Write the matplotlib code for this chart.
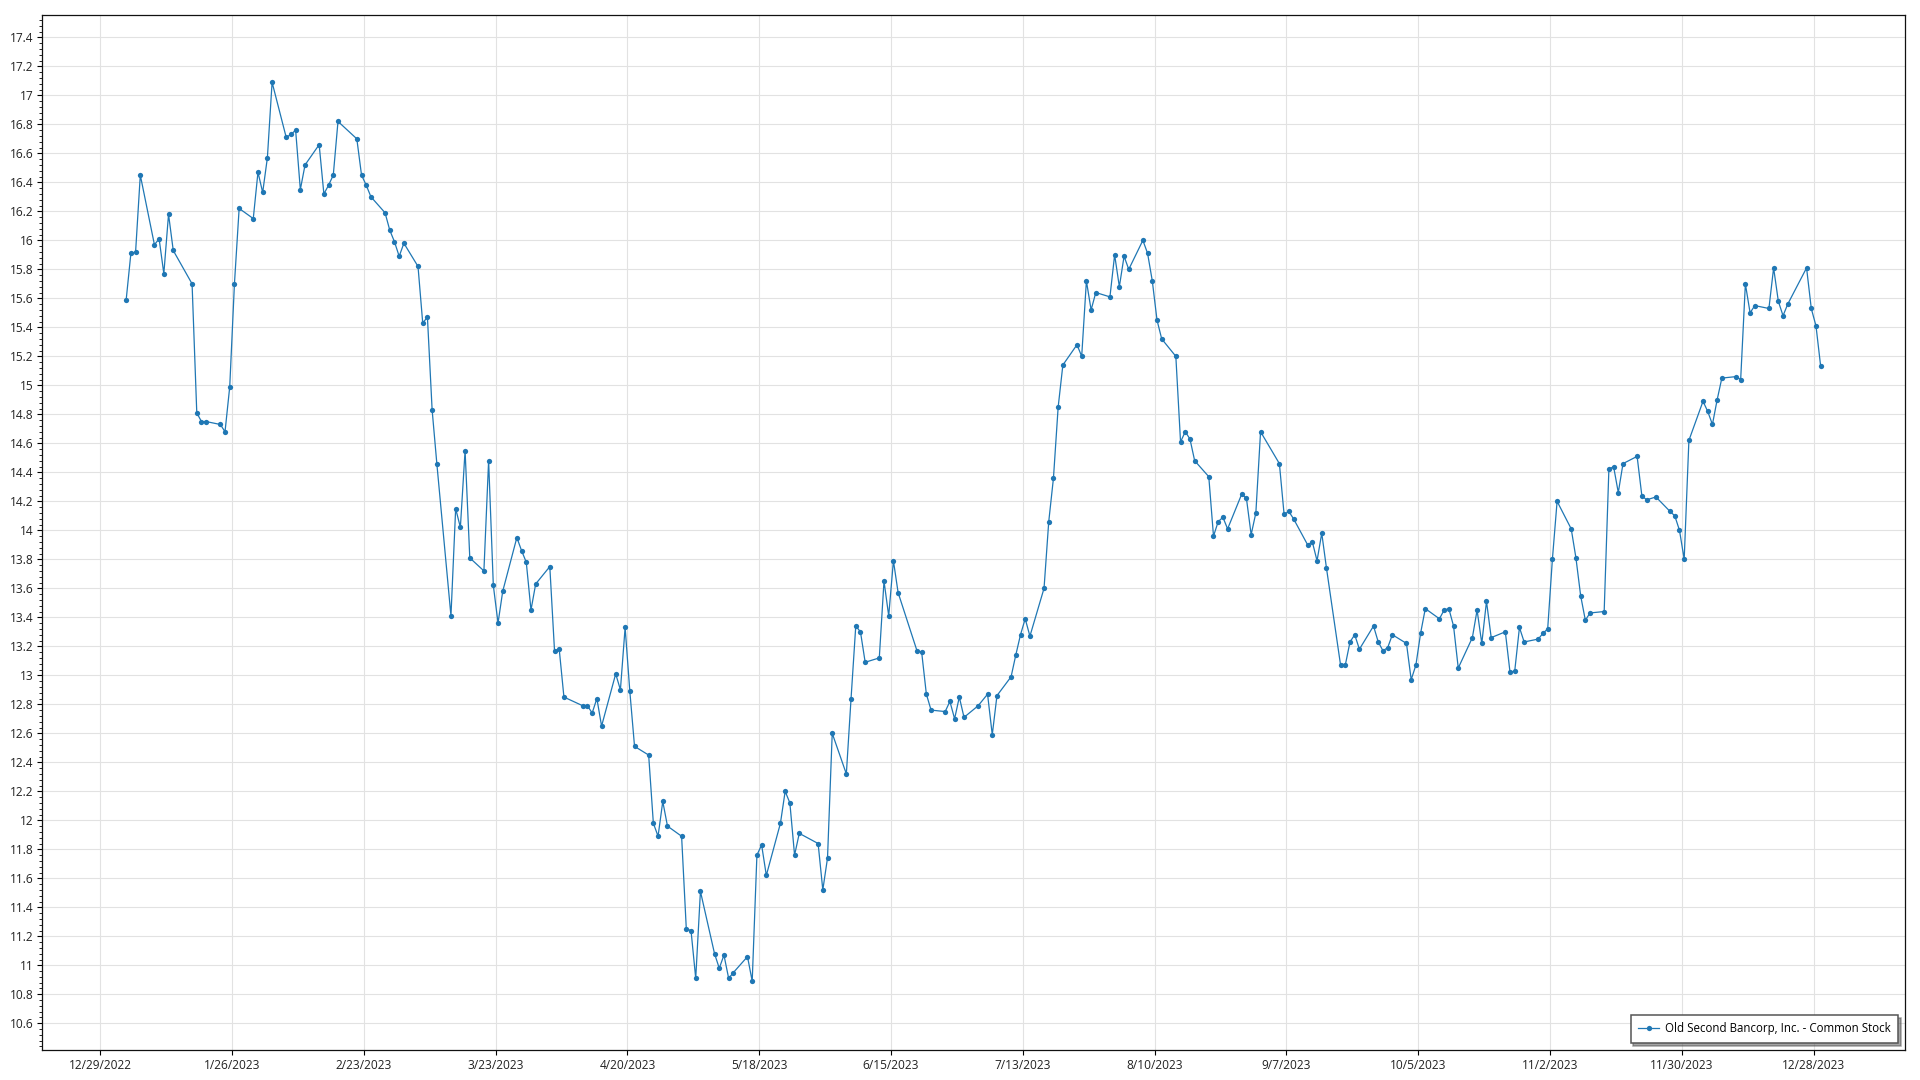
import matplotlib
matplotlib.use("Agg")
import matplotlib.pyplot as plt
import matplotlib.dates as mdates
from matplotlib.ticker import MultipleLocator, FuncFormatter
import pandas as pd

plt.rcParams['font.family'] = ['Open Sans', 'DejaVu Sans']

series_name = "Old Second Bancorp, Inc. - Common Stock"

# market closed on these days, so no points for them
market_holidays = ["2023-01-02", "2023-01-16", "2023-02-20", "2023-04-07", "2023-05-29",
                   "2023-06-19", "2023-07-04", "2023-09-04", "2023-11-23", "2023-12-25"]

# daily closes
close_jan = [15.59, 15.91, 15.92, 16.45, 15.97, 16.01, 15.77, 16.18, 15.93, 15.70,
             14.81, 14.75, 14.75, 14.73, 14.68, 14.99, 15.70, 16.22, 16.15, 16.47]
close_feb = [16.33, 16.57, 17.09, 16.71, 16.73, 16.76, 16.35, 16.52, 16.66, 16.32,
             16.38, 16.45, 16.82, 16.70, 16.45, 16.38, 16.30, 16.19, 16.07]
close_mar = [15.99, 15.89, 15.98, 15.82, 15.43, 15.47, 14.83, 14.46, 13.41, 14.15,
             14.02, 14.55, 13.81, 13.72, 14.48, 13.62, 13.36, 13.58, 13.95, 13.86,
             13.78, 13.45, 13.63]
close_apr = [13.75, 13.17, 13.18, 12.85, 12.79, 12.79, 12.74, 12.84, 12.65, 13.01,
             12.90, 13.33, 12.89, 12.51, 12.45, 11.98, 11.89, 12.13, 11.96]
close_may = [11.89, 11.25, 11.24, 10.91, 11.51, 11.08, 10.98, 11.07, 10.91, 10.95,
             11.06, 10.89, 11.76, 11.83, 11.62, 11.98, 12.20, 12.12, 11.76, 11.91,
             11.84, 11.52]
close_jun = [11.74, 12.60, 12.32, 12.84, 13.34, 13.30, 13.09, 13.12, 13.65, 13.41,
             13.79, 13.57, 13.17, 13.16, 12.87, 12.76, 12.75, 12.82, 12.70, 12.85,
             12.71]
close_jul = [12.79, 12.87, 12.59, 12.86, 12.99, 13.14, 13.28, 13.39, 13.27, 13.60,
             14.06, 14.36, 14.85, 15.14, 15.28, 15.20, 15.72, 15.52, 15.64, 15.61]
close_aug = [15.90, 15.68, 15.89, 15.80, 16.00, 15.91, 15.72, 15.45, 15.32, 15.20,
             14.61, 14.68, 14.63, 14.48, 14.37, 13.96, 14.06, 14.09, 14.01, 14.25,
             14.22, 13.97, 14.12]
close_sep = [14.68, 14.46, 14.11, 14.13, 14.08, 13.90, 13.92, 13.79, 13.98, 13.74,
             13.07, 13.07, 13.23, 13.28, 13.18, 13.34, 13.23, 13.17, 13.19, 13.28]
close_oct = [13.22, 12.97, 13.07, 13.29, 13.46, 13.39, 13.45, 13.46, 13.34, 13.05,
             13.26, 13.45, 13.22, 13.51, 13.26, 13.30, 13.02, 13.03, 13.33, 13.23,
             13.25, 13.29]
close_nov = [13.32, 13.80, 14.20, 14.01, 13.81, 13.55, 13.38, 13.43, 13.44, 14.42,
             14.44, 14.26, 14.46, 14.51, 14.24, 14.21, 14.23, 14.13, 14.10, 14.00,
             13.80]
close_dec = [14.62, 14.89, 14.82, 14.73, 14.90, 15.05, 15.06, 15.04, 15.70, 15.50,
             15.55, 15.53, 15.81, 15.58, 15.48, 15.56, 15.81, 15.53, 15.41, 15.13]

x_tick_dates = ["2022-12-29", "2023-01-26", "2023-02-23", "2023-03-23", "2023-04-20",
                "2023-05-18", "2023-06-15", "2023-07-13", "2023-08-10", "2023-09-07",
                "2023-10-05", "2023-11-02", "2023-11-30", "2023-12-28"]

close = (close_jan + close_feb + close_mar + close_apr + close_may + close_jun +
         close_jul + close_aug + close_sep + close_oct + close_nov + close_dec)
trade_dates = pd.bdate_range("2023-01-03", "2023-12-29", freq="C", holidays=market_holidays)
assert len(trade_dates) == len(close)

# points sit half a day right of their date gridline in the reference
x = trade_dates + pd.Timedelta(hours=12)

fig = plt.figure(figsize=(19.2, 10.8), dpi=100, facecolor='white')
ax = fig.add_axes([0.0221, 0.0278, 0.9701, 0.9583])

ax.plot(x, close, color='#1f77b4', linewidth=0.9, marker='o', markersize=3.8,
        markeredgewidth=0, label=series_name, zorder=3)

# axes ranges
ax.set_xlim(pd.Timestamp("2022-12-16 17:00"), pd.Timestamp("2024-01-16 10:00"))
ax.set_ylim(10.416, 17.554)

# ticks
ax.set_xticks(pd.to_datetime(x_tick_dates))
ax.xaxis.set_major_formatter(FuncFormatter(
    lambda v, pos: (lambda d: f"{d.month}/{d.day}/{d.year}")(mdates.num2date(v))))
ax.yaxis.set_major_locator(MultipleLocator(0.2))
ax.yaxis.set_minor_locator(MultipleLocator(0.04))
ax.yaxis.set_major_formatter(FuncFormatter(lambda v, pos: f"{round(v, 1):g}"))
ax.tick_params(axis='both', which='major', length=3.5, width=0.8, labelsize=8.6,
               labelcolor='#222222', pad=3)
ax.tick_params(axis='y', which='minor', length=2, width=0.6)

ax.grid(True, which='major', color='#e2e2e2', linewidth=0.8, zorder=0)
ax.set_axisbelow(True)
for side in ax.spines.values():
    side.set_color('#111111')
    side.set_linewidth(0.9)

legend = ax.legend(loc='lower right', bbox_to_anchor=(0.9962, 0.0068), borderaxespad=0,
                   fontsize=8.3, fancybox=False, shadow=True, framealpha=1,
                   edgecolor='#555555', handlelength=1.8, handletextpad=0.5,
                   borderpad=0.65)
legend.get_frame().set_linewidth(1.1)

fig.savefig("out.png", dpi=100, facecolor='white')
